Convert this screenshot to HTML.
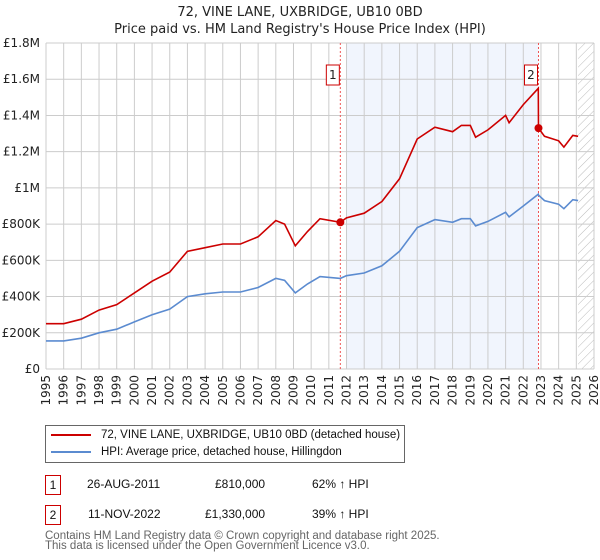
<!DOCTYPE html>
<html><head><meta charset="utf-8">
<style>
body{margin:0;background:#fff;font-family:"Liberation Sans","DejaVu Sans",sans-serif;}
#wrap{position:relative;width:600px;height:560px;overflow:hidden}
svg text{font-family:"DejaVu Sans","Liberation Sans",sans-serif}
</style></head>
<body><div id="wrap">
<svg id="chart" width="600" height="560">
<defs><pattern id="hatch" width="6" height="6" patternUnits="userSpaceOnUse" patternTransform="rotate(45)"><line x1="0" y1="0" x2="0" y2="6" stroke="#bbb" stroke-width="1"/></pattern></defs>
<text x="300" y="16" text-anchor="middle" font-size="13" fill="#222">72, VINE LANE, UXBRIDGE, UB10 0BD</text>
<text x="300" y="33" text-anchor="middle" font-size="13" fill="#222">Price paid vs. HM Land Registry's House Price Index (HPI)</text>
</svg>
<div style="position:absolute;left:45px;top:425px;width:358px;height:36px;border:1px solid #666;font-size:11.5px;color:#111">
 <div style="position:absolute;left:5px;top:3px"><span style="display:inline-block;width:40px;height:2px;background:#cc0000;vertical-align:middle;margin-right:10px"></span>72, VINE LANE, UXBRIDGE, UB10 0BD (detached house)</div>
 <div style="position:absolute;left:5px;top:20px"><span style="display:inline-block;width:40px;height:2px;background:#5b8bd0;vertical-align:middle;margin-right:10px"></span>HPI: Average price, detached house, Hillingdon</div>
</div>
<div style="font-size:12px;color:#111">
 <div style="position:absolute;left:45px;top:475px;width:14px;height:18px;border:1px solid #cc0000;text-align:center;line-height:18px">1</div>
 <div style="position:absolute;left:87px;top:477px">26-AUG-2011</div>
 <div style="position:absolute;left:215px;top:477px">£810,000</div>
 <div style="position:absolute;left:312px;top:477px">62% ↑ HPI</div>
 <div style="position:absolute;left:45px;top:505px;width:14px;height:18px;border:1px solid #cc0000;text-align:center;line-height:18px">2</div>
 <div style="position:absolute;left:88px;top:507px">11-NOV-2022</div>
 <div style="position:absolute;left:205px;top:507px">£1,330,000</div>
 <div style="position:absolute;left:312px;top:507px">39% ↑ HPI</div>
 <div style="position:absolute;left:45px;top:531px;font-size:11.5px;color:#666;line-height:10px">Contains HM Land Registry data © Crown copyright and database right 2025.<br>This data is licensed under the Open Government Licence v3.0.</div>
</div>
</div>
<script>
const years=[1995,1996,1997,1998,1999,2000,2001,2002,2003,2004,2005,2006,2007,2008,2008.5,2009.1,2009.8,2010.5,2011.65,2012,2013,2014,2015,2016,2017,2018,2018.5,2019,2019.3,2020,2021,2021.2,2022,2022.85,2022.86,2023.2,2024,2024.3,2024.8,2025.1];
const hpiValues=[155,155,170,200,220,260,300,330,400,415,425,425,450,500,490,420,470,510,500,515,530,570,650,780,825,810,830,830,790,815,865,840,900,965,960,930,910,885,935,930];
const priceValues=[250,250,275,325,355,420,485,535,650,670,690,690,730,820,800,680,760,830,810,835,860,925,1050,1270,1335,1310,1345,1345,1280,1320,1400,1360,1460,1550,1330,1285,1260,1225,1290,1285];
const saleYears=[2011.65,2022.86];
const salePrices=[810,1330];
const saleLabels=["1","2"];
const yTicks=[0,200,400,600,800,1000,1200,1400,1600,1800];
const yTickLabels=["£0","£200K","£400K","£600K","£800K","£1M","£1.2M","£1.4M","£1.6M","£1.8M"];
const xTicks=[1995,1996,1997,1998,1999,2000,2001,2002,2003,2004,2005,2006,2007,2008,2009,2010,2011,2012,2013,2014,2015,2016,2017,2018,2019,2020,2021,2022,2023,2024,2025,2026];
const X0=46,X1=594,Y0=369,Y1=43;
const sx=y=>X0+(y-1995)/(2026-1995)*(X1-X0);
const sy=v=>Y0-v/1800*(Y0-Y1);
const svg=document.getElementById('chart');const NS='http://www.w3.org/2000/svg';
function mk(t,a,p){const e=document.createElementNS(NS,t);for(const k in a)e.setAttribute(k,a[k]);(p||svg).appendChild(e);return e;}
const shade=mk('rect',{x:sx(2012),y:Y1,width:sx(saleYears[1])-sx(2012),height:Y0-Y1,fill:'#eef3fc',opacity:0.8});


const hatch=mk('rect',{x:sx(2025.1),y:Y1,width:X1-sx(2025.1),height:Y0-Y1,fill:'url(#hatch)'});


yTicks.forEach((v,i)=>{
 const g=mk('line',{x1:X0,x2:X1,y1:sy(v),y2:sy(v),stroke:'#ccc','stroke-width':1});
 
 
 const t=mk('text',{x:X0-6,y:sy(v)+4,'text-anchor':'end','font-size':12,fill:'#222'});t.textContent=yTickLabels[i];
 
 
});
xTicks.forEach(y=>{
 const g=mk('line',{x1:sx(y),x2:sx(y),y1:Y1,y2:Y0,stroke:'#ccc','stroke-width':1});
 
 
 const t=mk('text',{x:0,y:0,'text-anchor':'end','font-size':12,fill:'#222',transform:`translate(${sx(y)+4},${Y0+6}) rotate(-90)`});t.textContent=y;
 
 
});
saleYears.forEach((y,i)=>{
 const l=mk('line',{x1:sx(y),x2:sx(y),y1:Y1,y2:Y0,stroke:'#e55','stroke-width':1,'stroke-dasharray':'2,2'});
 
 
});
function path(vals,color,name){
 const d=years.map((y,i)=>(i?'L':'M')+sx(y).toFixed(1)+','+sy(vals[i]).toFixed(1)).join('');
 const p=mk('path',{d,fill:'none',stroke:color,'stroke-width':1.6});
 
 
}
path(hpiValues,'#5b8bd0','hpi-line');
path(priceValues,'#cc0000','price-line');
saleYears.forEach((y,i)=>{
 const c=mk('circle',{cx:sx(y),cy:sy(salePrices[i]),r:4,fill:'#cc0000'});
 
 
 const b=mk('rect',{x:sx(y)-14,y:65,width:13,height:20,fill:'#fff',stroke:'#cc0000'});
 
 
 const t=mk('text',{x:sx(y)-7.5,y:79,'text-anchor':'middle','font-size':12,fill:'#222'});t.textContent=saleLabels[i];
 
 
});
</script>
</body></html>
